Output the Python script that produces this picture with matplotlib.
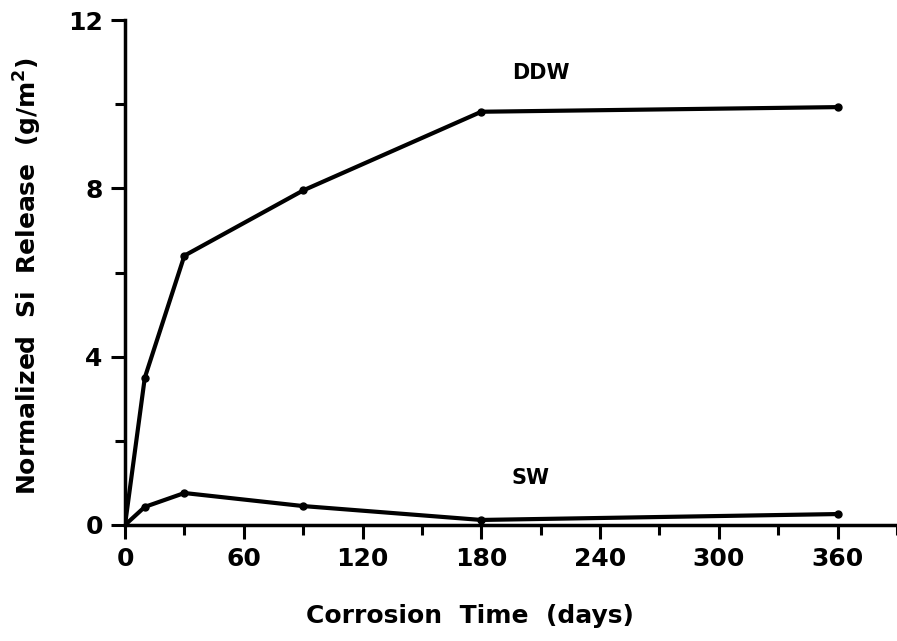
import matplotlib
matplotlib.use('Agg')
from matplotlib import pyplot as plt
from matplotlib.ticker import MultipleLocator

days = [0, 10, 30, 90, 180, 360]
ddw = [0, 3.5, 6.4, 7.95, 9.82, 9.93]
sw = [0, 0.43, 0.76, 0.45, 0.12, 0.26]

plt.rcParams['font.family'] = 'DejaVu Sans'
plt.rcParams['font.weight'] = 'bold'

fig = plt.figure(figsize=(8.97, 6.41), dpi=100)
ax = fig.add_axes([125/897, 116/641, 772/897, 505/641])

ax.plot(days, ddw, 'k-', lw=3, marker='o', ms=5)
ax.plot(days, sw, 'k-', lw=3, marker='o', ms=5)

ax.text(210, 10.75, 'DDW', fontsize=15, fontweight='bold', ha='center', va='center')
ax.text(205, 1.12, 'SW', fontsize=15, fontweight='bold', ha='center', va='center')

ax.set_xlim(0, 390)
ax.set_ylim(0, 12)
ax.xaxis.set_major_locator(MultipleLocator(60))
ax.xaxis.set_minor_locator(MultipleLocator(30))
ax.yaxis.set_major_locator(MultipleLocator(4))
ax.yaxis.set_minor_locator(MultipleLocator(2))

for s in ['top', 'right']:
    ax.spines[s].set_visible(False)
for s in ['left', 'bottom']:
    ax.spines[s].set_linewidth(2.5)

ax.tick_params(which='major', length=10, width=2.2, labelsize=18, pad=6)
ax.tick_params(which='minor', length=7, width=2.2)
for lab in ax.get_xticklabels() + ax.get_yticklabels():
    lab.set_fontweight('bold')

ax.set_xlabel('Corrosion  Time  (days)', fontsize=18, fontweight='bold')
ax.set_ylabel('Normalized  Si  Release  (g/m$\\mathbf{^2}$)', fontsize=18, fontweight='bold')
ax.xaxis.set_label_coords((470 - 125) / 772, -(604 - 525) / 505)
ax.yaxis.set_label_coords(-(125 - 44) / 772, (525 - 276) / 505)

plt.savefig('out.png', dpi=100)
